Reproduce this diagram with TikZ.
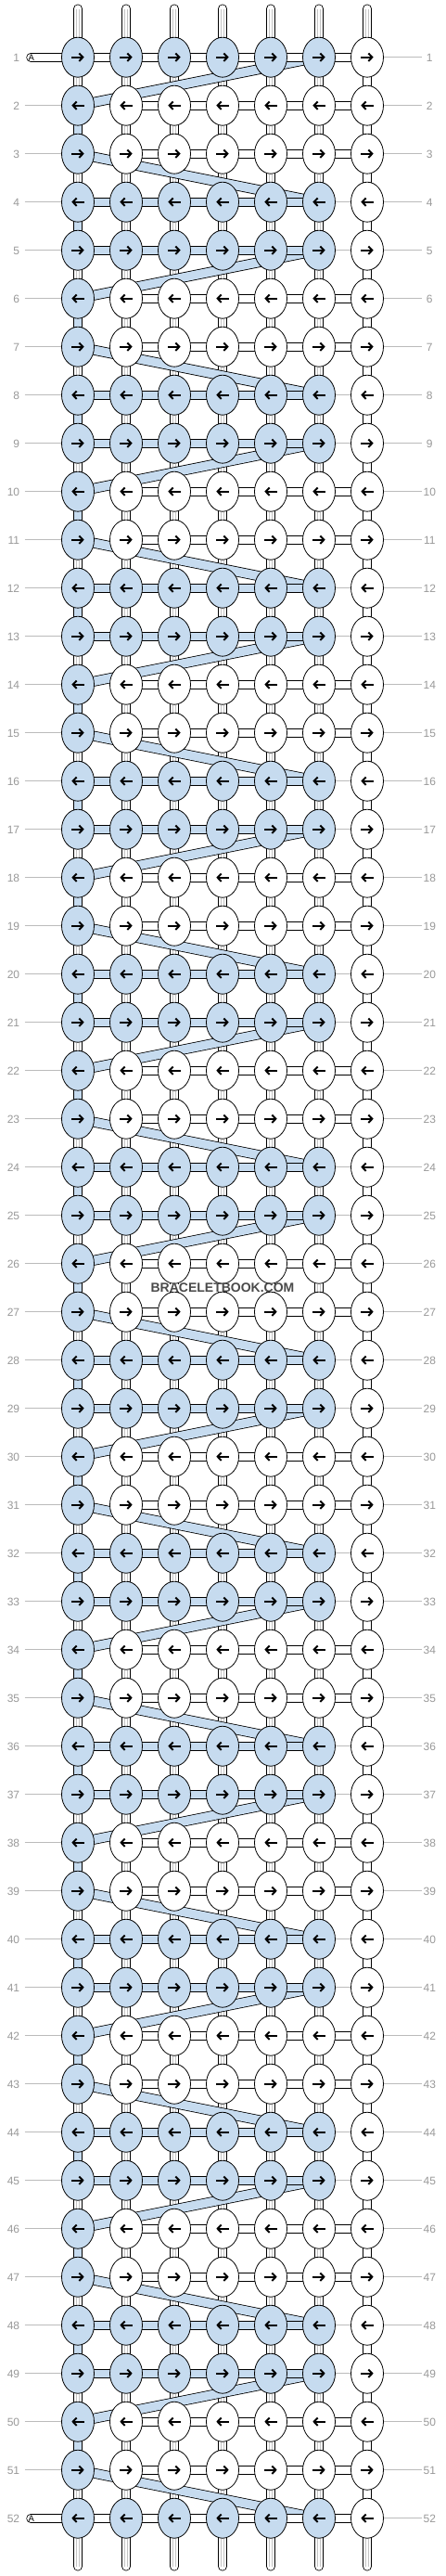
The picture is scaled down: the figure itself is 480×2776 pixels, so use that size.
\documentclass[tikz,border=0pt]{standalone}
\usepackage{fontspec}
\setmainfont{Liberation Sans}
\usetikzlibrary{arrows.meta,calc,shapes.geometric}
\definecolor{knotblue}{HTML}{C6DBEF}
\definecolor{lblgray}{HTML}{999999}
\definecolor{linegray}{HTML}{BBBBBB}
\definecolor{stripegray}{HTML}{C4C4C4}
\definecolor{wmark}{HTML}{4A4A4A}
\begin{document}
\begin{tikzpicture}[x=1pt,y=-1pt,
  knotnode/.style={ellipse, draw=black, line width=0.8pt, minimum width=35pt, minimum height=43pt, inner sep=0pt},
  tubew/.style={draw=black, line width=0.8pt, double=white, double distance=8.4pt},
  tubeb/.style={draw=black, line width=0.8pt, double=knotblue, double distance=8.4pt},
  stripe/.style={draw=stripegray, line width=0.7pt, double=white, double distance=2.2pt},
  bandline/.style={draw=black, line width=0.8pt, double=knotblue, double distance=9.4pt},
  guide/.style={draw=linegray, line width=0.9pt},
  knotarrow/.style={draw=black, line width=2pt, -{Straight Barb[length=4pt,width=8.5pt]}},
  lbl/.style={text=lblgray, font=\fontsize{12}{12}\selectfont, inner sep=0pt},
]
\fill[white] (0,0) rectangle (480,2776);
\useasboundingbox (0,0) rectangle (480,2776);

% coordinates
\foreach \r in {1,...,52}{
  \pgfmathsetmacro\yy{61.7+(\r-1)*52}
  \coordinate (l-\r) at (26.7,\yy);
  \coordinate (e-\r) at (454.5,\yy);
  \foreach \c in {1,...,7}{
    \pgfmathsetmacro\xx{84+(\c-1)*52}
    \coordinate (p-\r-\c) at (\xx,\yy);
  }
}
\foreach \c in {1,...,7}{
  \pgfmathsetmacro\xx{84+(\c-1)*52}
  \coordinate (t-\c) at (\xx,9.5);
  \coordinate (b-\c) at (\xx,2765.5);
}
\coordinate (a-1) at (33.3,61.7);
\coordinate (a-52) at (33.3,2713.7);

% guide lines
\foreach \r in {1,...,52}{
  \pgfmathtruncatemacro\m{mod(\r,4)}
  \pgfmathtruncatemacro\kind{((\r==1)||(\r==52)) ? 0 : (((\m==1)||(\m==0)) ? 1 : 2)}
  \draw[guide] (p-\r-7) -- (e-\r);
  \ifnum\r>1 \ifnum\r<52 \draw[guide] (l-\r) -- (p-\r-1); \fi\fi
  \ifnum\kind=1 \draw[guide] (p-\r-6) -- (p-\r-7); \fi
}

% top and bottom string ends
\foreach \c in {1,...,7}{
  \draw[tubew, line cap=round] (t-\c) -- (p-1-\c);
  \draw[stripe] (t-\c) -- (p-1-\c);
  \draw[tubew, line cap=round] (b-\c) -- (p-52-\c);
  \draw[stripe] (b-\c) -- (p-52-\c);
}
\draw[tubew, line cap=round] (a-1) -- (p-1-1);
\draw[tubew, line cap=round] (a-52) -- (p-52-1);

% vertical connectors
\foreach \r in {1,...,51}{
  \pgfmathtruncatemacro\rn{\r+1}
  \pgfmathtruncatemacro\od{mod(\r,2)}
  \foreach \c in {1,...,7}{
    \ifnum\c=7
      \draw[tubew] (p-\r-\c) -- (p-\rn-\c);
    \else
      \ifnum\c=1
        \ifnum\od=0
          \draw[tubeb] (p-\r-\c) -- (p-\rn-\c);
        \else
          \draw[tubew] (p-\r-\c) -- (p-\rn-\c);
          \draw[stripe] (p-\r-\c) -- (p-\rn-\c);
        \fi
      \else
        \draw[tubew] (p-\r-\c) -- (p-\rn-\c);
        \draw[stripe] (p-\r-\c) -- (p-\rn-\c);
      \fi
    \fi
  }
}

% diagonal bands
\foreach \k in {0,...,12}{
  \pgfmathtruncatemacro\ra{4*\k+1}
  \pgfmathtruncatemacro\rb{4*\k+2}
  \pgfmathtruncatemacro\rc{4*\k+3}
  \pgfmathtruncatemacro\rd{4*\k+4}
  \draw[bandline] (p-\ra-6) -- (p-\rb-1);
  \draw[bandline] (p-\rc-1) -- (p-\rd-6);
}

% horizontal connectors
\foreach \r in {1,...,52}{
  \pgfmathtruncatemacro\m{mod(\r,4)}
  \pgfmathtruncatemacro\kind{((\r==1)||(\r==52)) ? 0 : (((\m==1)||(\m==0)) ? 1 : 2)}
  \foreach \c in {1,...,6}{
    \pgfmathtruncatemacro\cn{\c+1}
    \ifcase\kind
      \draw[tubew] (p-\r-\c) -- (p-\r-\cn);
    \or
      \ifnum\c<6 \draw[tubeb] (p-\r-\c) -- (p-\r-\cn); \fi
    \or
      \ifnum\c>1 \draw[tubew] (p-\r-\c) -- (p-\r-\cn); \fi
    \fi
  }
}

% knots and arrows
\foreach \r in {1,...,52}{
  \pgfmathtruncatemacro\m{mod(\r,4)}
  \pgfmathtruncatemacro\ad{((\m==1)||(\m==0)) ? 1 : 0}
  \pgfmathsetmacro\xa{(mod(\r,2)==1) ? -6.7 : 6.7}
  \pgfmathsetmacro\xb{(mod(\r,2)==1) ? 6.7 : -6.7}
  \foreach \c in {1,...,7}{
    \pgfmathtruncatemacro\bl{(\c==1) || ((\ad==1) && (\c<7))}
    \ifnum\bl=1 \def\kf{knotblue}\else\def\kf{white}\fi
    \node[knotnode, fill=\kf] (k-\r-\c) at (p-\r-\c) {};
    \draw[knotarrow] ($(k-\r-\c.center)+(\xa,0)$) -- ($(k-\r-\c.center)+(\xb,0)$);
  }
}

% row numbers
\foreach \r in {1,...,52}{
  \pgfmathsetmacro\yb{61.7+(\r-1)*52+4.3}
  \node[lbl, anchor=base east] (nl-\r) at (21.3,\yb) {\r};
  \node[lbl, anchor=base] (nr-\r) at (463.3,\yb) {\r};
}

% string label
\node[font=\fontsize{9.5}{9.5}\selectfont, inner sep=0pt] (atx-1) at (33.8,62) {A};
\node[font=\fontsize{9.5}{9.5}\selectfont, inner sep=0pt] (atx-52) at (33.8,2714) {A};

% watermark
\fill[white] (161,1383.6) rectangle (319,1391.8);
\node[font=\bfseries\fontsize{14}{14}\selectfont, text=wmark, inner sep=0pt] (wm) at (240,1387.7) {BRACELETBOOK.COM};
\end{tikzpicture}
\end{document}
